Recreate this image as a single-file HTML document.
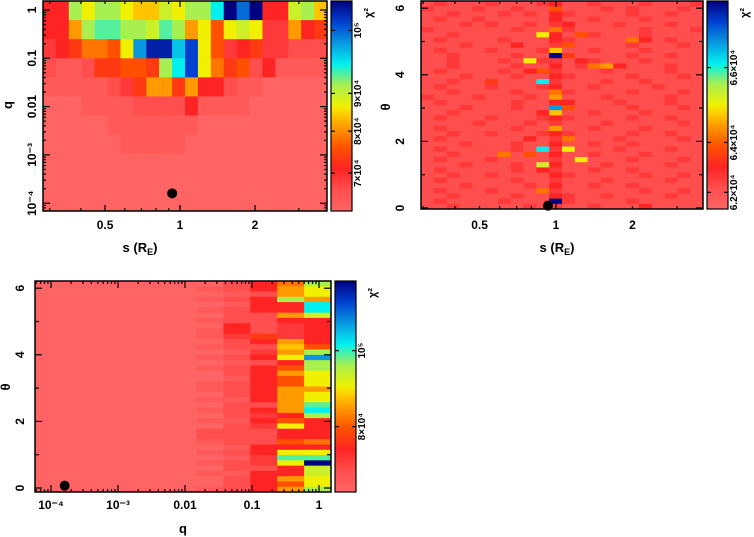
<!DOCTYPE html>
<html><head><meta charset="utf-8"><style>
html,body{margin:0;padding:0;background:#fff;}
svg{display:block;font-family:"Liberation Sans",sans-serif;font-weight:bold;}
</style></head><body>
<svg id="c" width="754" height="537" viewBox="0 0 754 537"></svg>
<script>
// value code: index in CODES / 20 -> normalized chi2 level
const CODES = "0123456789ABCDEFGHIJK";
// Panel 1: q (rows, top->bottom) vs s (22 columns)
const p1Rows = [
 "44CACCA99BACCEKHK44BC9",
 "448CDDCCBDC8A6ABA33845",
 "345776AGJJFIA634533222",
 "211255665CEIA756241111",
 "1111123588584421100000",
 "0001111222241111000000",
 "0000011111110000000000",
 "0000001111100000000000",
 "0000000000000000000000",
 "0000000000000000000000",
 "0000000000000000000000"
];
// Panel 2: theta (40 rows, top->bottom) vs s (22 columns)
const p2Rows = [
 "2322232223"+"4"+"22322232223",
 "3222322322"+"6"+"22232322232",
 "2232223232"+"4"+"32222322322",
 "2322322222"+"4"+"22322232222",
 "2223232232"+"3"+"42223222322",
 "3222222322"+"7"+"32222232223",
 "223222222A"+"4"+"26322232222",
 "2322223222"+"4"+"32222742322",
 "2223222422"+"3"+"62222322232",
 "2322232223"+"9"+"22322232222",
 "2232222322"+"K"+"52222322322",
 "22322232A3"+"3"+"24322232222",
 "2232222322"+"4"+"23784222322",
 "2322223246"+"3"+"22232222322",
 "2223222322"+"4"+"32222322232",
 "223225222E"+"3"+"22232232222",
 "2322232223"+"4"+"22322223222",
 "2232222322"+"7"+"32222322232",
 "3222322232"+"8"+"22232222322",
 "2322222322"+"4"+"42223222322",
 "2223222322"+"G"+"62222322232",
 "2232222224"+"9"+"22322232222",
 "2322232223"+"4"+"32222322322",
 "2222322232"+"3"+"22232222232",
 "2322222322"+"8"+"22322232222",
 "2232232223"+"4"+"32222322322",
 "2322222242"+"3"+"72223222232",
 "2223222322"+"4"+"22322322222",
 "232222232E"+"3"+"A2223222322",
 "2232227262"+"4"+"22322232222",
 "2322232222"+"3"+"2A222322232",
 "222322232B"+"4"+"22232222322",
 "2322222324"+"3"+"22322322222",
 "2232232222"+"4"+"32222232232",
 "2322222322"+"3"+"22232222322",
 "2223222232"+"4"+"22322322222",
 "2322232227"+"3"+"22222232232",
 "2232222322"+"4"+"32232222322",
 "2322223222"+"K"+"32222322222",
 "2232222232"+"3"+"22322242222"
];
// Panel 3: theta (40 rows top->bottom) vs q (11 columns), stored per column
const Z40 = "0000000000000000000000000000000000000000";
const p3Cols = [
 Z40, Z40, Z40, Z40, Z40, Z40,
 "0101010101101010100110101010221010101001",
 "2212122244322121221222122212222121221222",
 "44244422225423424444"+"44424343222443324444",
 "788C4484333898A46866"+"8888846A4464ADA44868",
 "CAA8EEB444446CGCCAAA"+"8AADEC444474ADKBBAAC"
];
const p1XTicks = [0.5, 1, 2];
const p1XTickLabels = ["0.5", "1", "2"];
const p1YTicks = [1, 0.1, 0.01, 0.001, 0.0001];
const p1YTickLabels = ["1", "0.1", "0.01", "10⁻³", "10⁻⁴"];
const thetaTicks = [0, 2, 4, 6];
const thetaTickLabels = ["0", "2", "4", "6"];
const p3XTicks = [1e-4, 1e-3, 0.01, 0.1, 1];
const p3XTickLabels = ["10⁻⁴", "10⁻³", "0.01", "0.1", "1"];
const cb1Labels = ["10⁵", "9×10⁴", "8×10⁴", "7×10⁴"];
const cb1Levels = [0.86, 0.56, 0.38, 0.18];
const cb2Labels = ["6.6×10⁴", "6.4×10⁴", "6.2×10⁴"];
const cb2Levels = [0.68, 0.32, 0.08];
const cb3Labels = ["10⁵", "8×10⁴"];
const cb3Levels = [0.67, 0.31];
const bestFit1 = [0.93, 1.6e-4];
const bestFit2 = [0.93, 0.07];
const bestFit3 = [1.6e-4, 0.07];

const NS = "http://www.w3.org/2000/svg";
const svg = document.getElementById('c');
const stops = [[0,[255,100,100]],[0.1,[255,78,78]],[0.2,[255,36,36]],[0.3,[255,80,0]],[0.4,[255,154,0]],[0.45,[255,196,0]],[0.5,[240,240,0]],[0.6,[168,240,80]],[0.7,[0,240,240]],[0.8,[8,152,224]],[0.9,[0,64,208]],[1,[0,0,128]]];
function cmap(v){
  for(let i=1;i<stops.length;i++){
    if(v<=stops[i][0]){const a=stops[i-1],b=stops[i];const t=(v-a[0])/(b[0]-a[0]);
      const c=a[1].map((x,k)=>Math.round(x+(b[1][k]-x)*t));return `rgb(${c[0]},${c[1]},${c[2]})`;}
  }
  return 'rgb(0,0,128)';
}
function val(ch){return CODES.indexOf(ch)/20;}
function mk(tag, attrs, parent){const e=document.createElementNS(NS,tag);for(const k in attrs)e.setAttribute(k,attrs[k]);(parent||svg).appendChild(e);return e;}
const L=Math.log10;

const P1={x0:43,x1:327,y0:1,y1:211};
const P2={x0:421,x1:703,y0:1,y1:209};
const P3={x0:35,x1:331,y0:281,y1:492};
const sx1=s=>180+249*L(s), qy1=q=>10-48.3*L(q);
const sx2=s=>556+254*L(s), ty2=t=>208-33.3*t;
const qx3=q=>319+67*L(q), ty3=t=>488-33.3*t;

function grid(P, rows, name){
  const g=mk('g',{});
  
  
  const nr=rows.length, nc=rows[0].length;
  const w=(P.x1-P.x0)/nc, h=(P.y1-P.y0)/nr;
  rows.forEach((row,r)=>{for(let c=0;c<nc;c++){
    const rc=mk('rect',{x:(P.x0+c*w).toFixed(2),y:(P.y0+r*h).toFixed(2),width:(w+0.4).toFixed(2),height:(h+0.4).toFixed(2),fill:cmap(val(row[c]))},g);
    
    
  }});
}
grid(P1,p1Rows,'heatmap-q-vs-s');
grid(P2,p2Rows,'heatmap-theta-vs-s');
const p3Rows=[];for(let r=0;r<40;r++){let s="";for(let c=0;c<p3Cols.length;c++)s+=p3Cols[c][r];p3Rows.push(s);}
grid(P3,p3Rows,'heatmap-theta-vs-q');

const defs=mk('defs',{});
const lg=mk('linearGradient',{id:'cg',x1:0,y1:1,x2:0,y2:0},defs);
for(let i=0;i<=40;i++){mk('stop',{offset:i/40,'stop-color':cmap(i/40)},lg);}

function frame(P,name){const r=mk('rect',{x:P.x0,y:P.y0,width:P.x1-P.x0,height:P.y1-P.y0,fill:'none',stroke:'#000','stroke-width':1.5});
  }
function txt(x,y,s,opts){const t=mk('text',Object.assign({x:x,y:y,'font-size':12,'text-anchor':'middle',fill:'#000'},opts||{}));t.textContent=s;return t;}
function rtxt(x,y,s,name,size){const t=mk('text',{x:0,y:0,'font-size':size||12,'text-anchor':'middle',fill:'#000',transform:`translate(${x},${y}) rotate(-90)`});t.textContent=s;
  return t;}
function tick(x1,y1,x2,y2){mk('line',{x1:x1,y1:y1,x2:x2,y2:y2,stroke:'#000','stroke-width':1.2});}

function colorbar(P,levels,labels,name){
  const bx0=P.x1+4,bx1=P.x1+25;
  const r=mk('rect',{x:bx0,y:P.y0,width:bx1-bx0,height:P.y1-P.y0,fill:'url(#cg)',stroke:'#000','stroke-width':1.2});
  
  levels.forEach((lv,i)=>{const y=P.y1-lv*(P.y1-P.y0);tick(bx1-4,y,bx1,y);tick(bx0,y,bx0+4,y);
    rtxt(bx1+9,y,labels[i],'colorbar-tick-label',10);});
  rtxt(bx1+20,P.y0+12,'χ²','colorbar-title',11);
}

// Panel 1
frame(P1,'plot-frame-q-vs-s');
for(let d=-1;d<=0;d++)for(let m=1;m<=9;m++){const s=m*Math.pow(10,d);const x=sx1(s);if(x>P1.x0&&x<P1.x1){tick(x,P1.y1,x,P1.y1-(m===1?6:3));tick(x,P1.y0,x,P1.y0+(m===1?6:3));}}
p1XTicks.forEach((s,i)=>{const x=sx1(s);tick(x,P1.y1,x,P1.y1-6);txt(x,229,p1XTickLabels[i]);});
for(let d=-5;d<=0;d++)for(let m=1;m<=9;m++){const q=m*Math.pow(10,d);const y=qy1(q);if(y>P1.y0&&y<P1.y1){tick(P1.x0,y,P1.x0+(m===1?7:3),y);tick(P1.x1,y,P1.x1-(m===1?7:3),y);}}
p1YTicks.forEach((q,i)=>rtxt(36,qy1(q),p1YTickLabels[i],'y-tick-label'));
rtxt(12,105,'q','y-axis-title',13);
const xt1=txt(140,252,'s (R',{'font-size':13});
const ts1=mk('tspan',{'font-size':9,dy:3},xt1);ts1.textContent='E';const ts1b=mk('tspan',{dy:-3},xt1);ts1b.textContent=')';
colorbar(P1,cb1Levels,cb1Labels,'colorbar-q-vs-s');
const d1=mk('circle',{cx:sx1(bestFit1[0]),cy:qy1(bestFit1[1]),r:5,fill:'#000'});

// Panel 2
frame(P2,'plot-frame-theta-vs-s');
for(let d=-1;d<=0;d++)for(let m=1;m<=9;m++){const s=m*Math.pow(10,d);const x=sx2(s);if(x>P2.x0&&x<P2.x1){tick(x,P2.y1,x,P2.y1-(m===1?6:3));tick(x,P2.y0,x,P2.y0+(m===1?6:3));}}
p1XTicks.forEach((s,i)=>{const x=sx2(s);txt(x,229,p1XTickLabels[i]);});
for(let t=0;t<=6;t++){const y=ty2(t);tick(P2.x0,y,P2.x0+(t%2===0?7:4),y);tick(P2.x1,y,P2.x1-(t%2===0?7:4),y);}
thetaTicks.forEach((t,i)=>rtxt(404,ty2(t),thetaTickLabels[i],'y-tick-label'));
rtxt(390,107,'θ','y-axis-title',13);
const xt2=txt(557,252,'s (R',{'font-size':13});
const ts2=mk('tspan',{'font-size':9,dy:3},xt2);ts2.textContent='E';const ts2b=mk('tspan',{dy:-3},xt2);ts2b.textContent=')';
colorbar(P2,cb2Levels,cb2Labels,'colorbar-theta-vs-s');
const d2=mk('circle',{cx:sx2(bestFit2[0]),cy:ty2(bestFit2[1]),r:5,fill:'#000'});

// Panel 3
frame(P3,'plot-frame-theta-vs-q');
for(let d=-5;d<=0;d++)for(let m=1;m<=9;m++){const q=m*Math.pow(10,d);const x=qx3(q);if(x>P3.x0&&x<P3.x1){tick(x,P3.y1,x,P3.y1-(m===1?7:3));tick(x,P3.y0,x,P3.y0+(m===1?7:3));}}
p3XTicks.forEach((q,i)=>{const x=qx3(q);txt(x,509,p3XTickLabels[i]);});
for(let t=0;t<=6;t++){const y=ty3(t);tick(P3.x0,y,P3.x0+(t%2===0?7:4),y);tick(P3.x1,y,P3.x1-(t%2===0?7:4),y);}
thetaTicks.forEach((t,i)=>rtxt(24,ty3(t),thetaTickLabels[i],'y-tick-label'));
rtxt(10,387,'θ','y-axis-title',13);
const xt3=txt(183,533,'q',{'font-size':13});
colorbar(P3,cb3Levels,cb3Labels,'colorbar-theta-vs-q');
const d3=mk('circle',{cx:qx3(bestFit3[0]),cy:ty3(bestFit3[1]),r:5,fill:'#000'});
</script>
</body></html>
